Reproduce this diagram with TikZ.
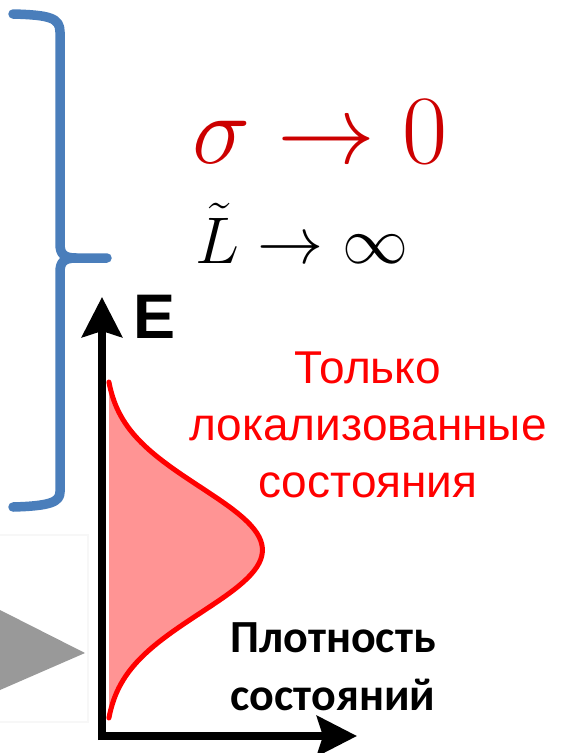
\RequirePackage{fix-cm}
\documentclass[tikz,border=0pt]{standalone}
\usepackage{fontspec}
\usepackage{tikz}
\usepackage{xcolor}
\usetikzlibrary{arrows.meta,positioning,calc}
\newfontfamily\arialfont{Liberation Sans}
\newfontfamily\calibrifont{Carlito}
\definecolor{bracblue}{HTML}{4A7EBB}
\definecolor{sigred}{HTML}{CC0000}
\definecolor{dosred}{HTML}{FF0000}
\definecolor{arrgray}{HTML}{999999}

\begin{document}
\begin{tikzpicture}[
        x=1pt, y=-1pt,
        brace/.style={
          draw=bracblue,
          line width=9.5pt,
          line cap=round,
          line join=round
        },
        axis/.style={
          -{Stealth[length=40pt, width=40pt, inset=6pt]},
          line width=8pt,
          black
        },
        doscurve/.style={
          dosred,
          line width=5pt,
          line cap=round
        },
        redtext/.style={
          dosred,
          align=center,
          font=\arialfont\fontsize{46}{57}\selectfont
        },
        blacktext/.style={
          align=center,
          font=\calibrifont\bfseries\fontsize{46}{58}\selectfont
        }
      ]

      \useasboundingbox (0,0) rectangle (568,753);

      % faint frame and grey arrow on the left
      \draw[black!3, line width=1.5pt] (0,535) -- (88,535) -- (88,722) -- (0,722);
      \fill[arrgray] (0,610) -- (85,653) -- (0,690) -- cycle;

      % brace
      \draw[brace] (13,14) .. controls (50,15) and (60,18) .. (60,32)
        -- (60,244) .. controls (60,254) and (64,258) .. (76,258) -- (107,258);
      \draw[brace] (76,258) .. controls (64,258) and (60,262) .. (60,272)
        -- (60,492) .. controls (60,502) and (50,506) .. (13,507);

      % formulas
      \node[sigred, anchor=base, inner sep=0pt] (sigma) at (320,163)
        {\fontsize{98}{100}\selectfont$\sigma\to0$};
      \node[anchor=base, inner sep=0pt] (length) at (302,263)
        {\fontsize{66}{70}\selectfont$\tilde{L}\to\infty$};

      % density of states
      \coordinate (origin) at (102,736);
      \coordinate (etop) at (102,297);
      \coordinate (gtop) at (109,382);
      \coordinate (gbot) at (109,718);

      \fill[red!42] (gtop)
        -- plot[domain=382:718, samples=90, variable=\t]
          ({109+158*(exp(-0.5*((\t-550)/63)^2)-0.029)}, \t)
        -- (gbot) -- cycle;
      \draw[doscurve] plot[domain=382:718, samples=90, variable=\t]
          ({109+158*(exp(-0.5*((\t-550)/63)^2)-0.029)}, \t);

      \draw[axis] ($(origin)+(0,4)$) -- (etop);
      \draw[axis] ($(origin)+(-4,0)$) -- (357,736);

      \node[anchor=base west, inner sep=0pt, font=\arialfont\bfseries\fontsize{63}{63}\selectfont]
        (elabel) at (133,338) {E};

      \node[redtext, anchor=base, inner sep=0pt] (localized) at (368,497)
        {Только\\локализованные\\состояния};

      \node[blacktext, anchor=base, inner sep=0pt] (dos) at (333,710)
        {Плотность\\состояний};

      \end{tikzpicture}
\end{document}
